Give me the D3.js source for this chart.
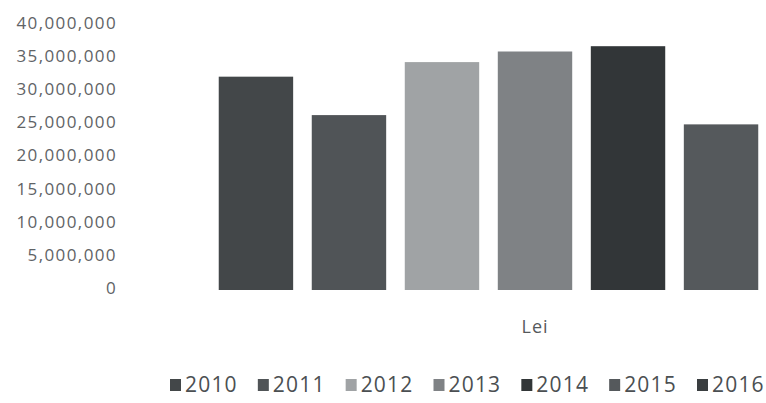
<!DOCTYPE html>
<html>
<head>
<meta charset="utf-8">
<script src="https://d3js.org/d3.v7.min.js"></script>
<style>
  html, body { margin: 0; padding: 0; background: #ffffff; }
  svg { display: block; }
</style>
</head>
<body>
<svg id="drawing_region"></svg>
<script>
// one category on the x axis, one series per year
const categories = ["Lei"];
const years = ["2010", "2011", "2012", "2013", "2014", "2015", "2016"];
// values in lei (2016 bar is cut off by the frame)
const values = [32200000, 26400000, 34400000, 36000000, 36800000, 25000000, null];
const colors = ["#434749", "#505457", "#a0a3a5", "#7f8285", "#323638", "#55595c", "#3a3e40"];
const yTicks = [0, 5000000, 10000000, 15000000, 20000000, 25000000, 30000000, 35000000, 40000000];

class BarChart {

    constructor( config, data ) {
        this.config = {
            parent: config.parent,
            width: config.width || 766,
            height: config.height || 403,
            margin: config.margin || {top:25, right:0, bottom:113, left:130}
        }
        this.data = data;
        this.init();
    }

    init() {
        let self = this;

        self.svg = d3.select( self.config.parent )
            .attr('width', self.config.width)
            .attr('height', self.config.height);

        self.inner_height = self.config.height - self.config.margin.top - self.config.margin.bottom;

        // the plot runs past the right edge of the picture
        self.xscale = d3.scaleBand()
            .domain( categories )
            .range( [self.config.margin.left, 940] )
            .paddingInner(0)
            .paddingOuter(0.122);

        self.x1scale = d3.scaleBand()
            .domain( years )
            .range( [0, self.xscale.bandwidth()] )
            .paddingInner(0.2)
            .paddingOuter(0.1);

        self.yscale = d3.scaleLinear()
            .domain( [0, 40000000] )
            .range( [self.config.margin.top + self.inner_height, self.config.margin.top] );

        self.color = d3.scaleOrdinal()
            .domain( years )
            .range( colors );

        self.yaxis = d3.axisLeft( self.yscale )
            .tickValues( yTicks )
            .tickSize(0)
            .tickPadding(0)
            .tickFormat( d3.format(",") );

        self.xaxis = d3.axisBottom( self.xscale )
            .tickSize(0)
            .tickPadding(0);

        self.yaxis_group = self.svg.append('g')
            .attr('transform', `translate(117, -2)`);

        self.xaxis_group = self.svg.append('g')
            .attr('transform', `translate(0, 320)`);

        self.bar_group = self.svg.append('g');
        self.legend_group = self.svg.append('g')
            .attr('transform', 'translate(0, 392)');
    }

    update() {
        let self = this;
        self.render();
    }

    render() {
        let self = this;

        self.bar_group.selectAll("rect")
            .data( self.data.filter( d => d.value != null ) )
            .join("rect")
            .attr("x", d => self.xscale( d.category ) + self.x1scale( d.year ) )
            .attr("y", d => self.yscale( d.value ) )
            .attr("width", self.x1scale.bandwidth() )
            .attr("height", d => self.yscale(0) - self.yscale( d.value ) )
            .attr("fill", d => self.color( d.year ) );

        self.yaxis_group
            .call( self.yaxis )
            .call( g => g.select(".domain").remove() );
        self.yaxis_group.selectAll("text")
            .attr("fill", "#5f6366")
            .attr("font-family", "'Open Sans', sans-serif")
            .attr("font-size", "17px")
            .attr("letter-spacing", "1.4px");

        self.xaxis_group
            .call( self.xaxis )
            .call( g => g.select(".domain").remove() );
        self.xaxis_group.selectAll("text")
            .attr("fill", "#55595c")
            .attr("font-family", "'Open Sans', sans-serif")
            .attr("font-size", "18px")
            .attr("letter-spacing", "1px");

        // legend: swatch + year, spaced along the bottom
        const legend_x = d3.scalePoint()
            .domain( years )
            .range( [170, 697] );

        const item = self.legend_group.selectAll("g")
            .data( years )
            .join("g")
            .attr("transform", d => `translate(${legend_x(d)}, 0)`);

        item.append("rect")
            .attr("x", 0)
            .attr("y", -13)
            .attr("width", 11)
            .attr("height", 12)
            .attr("fill", d => self.color(d));

        item.append("text")
            .attr("x", 15)
            .attr("y", 0)
            .attr("fill", "#4b4f52")
            .attr("font-family", "'Open Sans', sans-serif")
            .attr("font-size", "21px")
            .attr("letter-spacing", "1.2px")
            .text( d => d );
    }
}

const data = years.map( (y, i) => ({ category: categories[0], year: y, value: values[i] }) );

const bar_chart = new BarChart( {
    parent: '#drawing_region',
    width: 766,
    height: 403,
    margin: {top:25, right:0, bottom:113, left:130}
}, data );
bar_chart.update();
</script>
</body>
</html>
